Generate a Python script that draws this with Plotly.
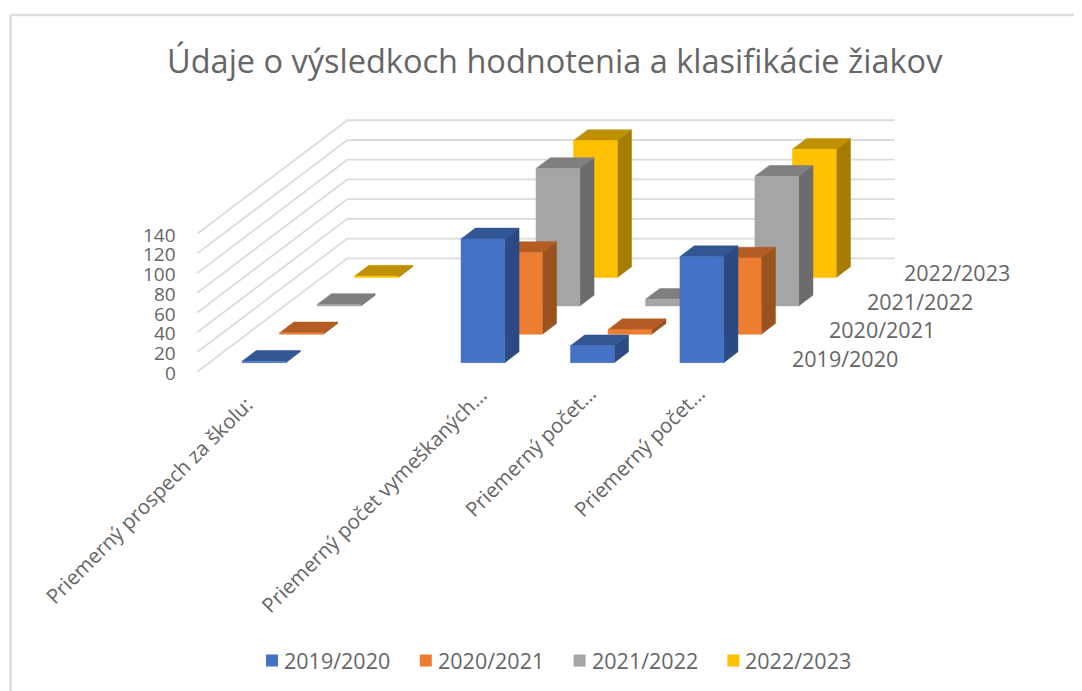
import plotly.graph_objects as go

# ---- data ----
categories = ["Priemerný prospech za školu:", "", "Priemerný počet vymeškaných...",
              "Priemerný počet...", "Priemerný počet..."]
series_names = ["2019/2020", "2020/2021", "2021/2022", "2022/2023"]
s2019 = [1.5, None, 125.5, 17.2, 107.5]
s2020 = [1.5, None, 83.0, 4.7, 77.4]
s2021 = [1.5, None, 139.4, 6.8, 131.5]
s2022 = [1.5, None, 139.0, 5.0, 130.2]
series_values = [s2019, s2020, s2021, s2022]
y_ticks = [0, 20, 40, 60, 80, 100, 120, 140]
title_text = "Údaje o výsledkoch hodnotenia a klasifikácie žiakov"

front_colors = ["#4472C4", "#ED7D31", "#A5A5A5", "#FFC000"]
side_colors = ["#2B4A83", "#9A521F", "#6C6C6C", "#A67D00"]
top_colors = ["#325594", "#B35D24", "#7F7F7F", "#BF9000"]
FONT = "Open Sans"
TXT = "#666666"
GRID = "#DCDCDC"

# ---- scales: 2D axes in category / value units, depth is an oblique shear ----
PAGE_W, PAGE_H, PAD = 1082, 691, 8   # the page body adds an 8px margin
W, H = PAGE_W - PAD, PAGE_H - PAD
X0, PX_CAT = 197.3, 109.45      # page pixel of category 0, pixels per category
Y0, PX_VAL = 371.7, 0.986       # page pixel of value 0, pixels per value unit
DX, DY = 37.5 / PX_CAT, 28.35 / PX_VAL   # shear per series step
BAR_W, BAR_START, BAR_DEPTH = 0.40, 0.32, 0.38
N_CAT, N_SER = len(categories), len(series_names)


def proj(cat, depth, val):
    return cat + depth * DX, val + depth * DY


def px_x(px):
    return (px - X0) / PX_CAT


def px_y(py):
    return (Y0 - py) / PX_VAL


fig = go.Figure()

# gridlines: front corner -> back wall -> right end
for v in y_ticks:
    pts = [proj(0, 0, v), proj(0, N_SER, v), proj(N_CAT, N_SER, v)]
    fig.add_trace(go.Scatter(x=[p[0] for p in pts], y=[p[1] for p in pts], mode="lines",
                             line=dict(color=GRID, width=1.8), showlegend=False, hoverinfo="skip"))


def face(pts, color):
    fig.add_trace(go.Scatter(x=[p[0] for p in pts] + [pts[0][0]], y=[p[1] for p in pts] + [pts[0][1]],
                             mode="lines", fill="toself", fillcolor=color,
                             line=dict(color=color, width=0.5), showlegend=False, hoverinfo="skip"))


# bars, back series first
for s in reversed(range(N_SER)):
    for c in range(N_CAT):
        v = series_values[s][c]
        if v is None:
            continue
        l = c + (1 - BAR_W) / 2
        r = l + BAR_W
        d0 = s + BAR_START
        d1 = d0 + BAR_DEPTH
        face([proj(r, d0, 0), proj(r, d1, 0), proj(r, d1, v), proj(r, d0, v)], side_colors[s])
        face([proj(l, d0, v), proj(r, d0, v), proj(r, d1, v), proj(l, d1, v)], top_colors[s])
        face([proj(l, d0, 0), proj(r, d0, 0), proj(r, d0, v), proj(l, d0, v)], front_colors[s])

ann = []
# legend row (swatch + label)
for s, name in enumerate(series_names):
    fig.add_trace(go.Scatter(x=[px_x(272 + s * 153.8)], y=[px_y(660.5)], mode="markers", name=name,
                             marker=dict(symbol="square", size=12, color=front_colors[s]),
                             showlegend=False, hoverinfo="skip"))
    ann.append(dict(x=px_x(282 + s * 153.8), y=px_y(660.5), xref="x", yref="y", text=name, showarrow=False,
                    xanchor="left", yanchor="middle", font=dict(family=FONT, size=21.5, color=TXT)))

# value-axis labels
for v in y_ticks:
    ann.append(dict(x=0, y=v, xref="x", yref="y", text=str(v), showarrow=False, xanchor="right",
                    xshift=-19, yshift=-1, font=dict(family=FONT, size=19, color=TXT)))
# depth-axis labels
for s, name in enumerate(series_names):
    x, y = proj(N_CAT, s, 0)
    ann.append(dict(x=x, y=y, xref="x", yref="y", text=name, showarrow=False, xanchor="right",
                    xshift=155, yshift=13.7, font=dict(family=FONT, size=21.5, color=TXT)))
# category labels (rotated)
label_pos = {0: (149, 500), 2: (373.5, 500), 3: (530, 451), 4: (639, 451)}
for c, name in enumerate(categories):
    if not name:
        continue
    px, py = label_pos[c]
    ann.append(dict(x=px_x(px), y=px_y(py), xref="x", yref="y", text=name, showarrow=False, textangle=-45,
                    xanchor="center", yanchor="middle",
                    font=dict(family=FONT, size=20.5, color=TXT)))
# title
ann.append(dict(x=px_x(555), y=px_y(60), xref="x", yref="y", text=title_text, showarrow=False,
                xanchor="center", yanchor="middle", font=dict(family=FONT, size=32.5, color=TXT)))

border = dict(type="line", xref="x", yref="y", line=dict(color="#DDDDDD", width=2.5))

fig.update_layout(
    width=W, height=H, margin=dict(l=0, r=0, t=0, b=0), showlegend=False,
    paper_bgcolor="white", plot_bgcolor="white",
    xaxis=dict(range=[px_x(PAD), px_x(PAGE_W)], visible=False, fixedrange=True),
    yaxis=dict(range=[px_y(PAGE_H), px_y(PAD)], visible=False, fixedrange=True),
    annotations=ann,
    shapes=[dict(border, x0=px_x(10.5), x1=px_x(10.5), y0=px_y(PAGE_H), y1=px_y(15)),
            dict(border, x0=px_x(10.5), x1=px_x(PAGE_W), y0=px_y(15), y1=px_y(15))],
)
fig.write_html("out.html")
